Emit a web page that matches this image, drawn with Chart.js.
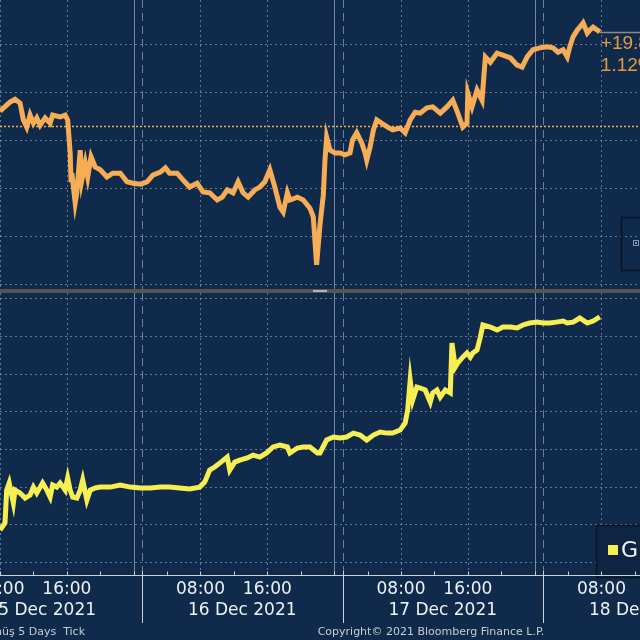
<!DOCTYPE html>
<html>
<head>
<meta charset="utf-8">
<script src="https://cdn.jsdelivr.net/npm/chart.js@4.4.1/dist/chart.umd.min.js"></script>
<style>
  html, body { margin: 0; padding: 0; background: #0f2a4a; overflow: hidden; }
  #wrap { position: relative; width: 640px; height: 640px; background: #0f2a4a; }
  canvas { position: absolute; left: 0; }
  #top { top: 0; }
  #sep { position: absolute; left: 0; top: 289px; width: 640px; height: 4px; background: #55574f; }
  #handle { position: absolute; left: 313px; top: 290px; width: 14px; height: 2px; background: #b8b8b0; }
  #bottom { top: 293px; }
</style>
</head>
<body>
<div id="wrap">
  <canvas id="top" width="640" height="289"></canvas>
  <div id="sep"></div>
  <div id="handle"></div>
  <canvas id="bottom" width="640" height="347"></canvas>
</div>
<script>
// x values are hours counted from 15 Dec 2021 00:00
const xMin = 8, xMax = 84.61;

// upper panel (orange)
const goldHours = [8.0, 9.2, 9.8, 10.4, 10.8, 11.2, 11.6, 12.0, 12.4, 12.8, 13.4, 14.0, 14.3, 15.2, 15.8,
  16.1, 16.4, 16.5, 16.6, 17.0, 17.2, 17.6, 17.8, 18.2, 18.5, 18.9, 19.4, 20.0, 20.8, 21.5, 22.4,
  23.2, 23.9, 24.8, 25.6, 26.3, 27.2, 27.8, 28.3, 29.2, 29.9, 30.7, 31.6, 32.3, 33.1, 34.0, 34.6,
  35.2, 35.9, 36.5, 37.1, 37.7, 38.5, 39.1, 39.7, 40.3, 40.9, 41.5, 41.9, 42.4, 42.7, 43.6, 44.3,
  45.1, 45.5, 45.9, 46.3, 46.7, 46.9, 47.1, 47.5, 48.1, 48.7, 49.3, 49.9, 50.2, 50.7, 51.3, 51.7,
  51.9, 52.3, 52.7, 53.1, 53.7, 54.4, 55.0, 55.9, 56.5, 57.1, 57.7, 58.3, 59.1, 59.8, 60.7, 61.5,
  62.2, 62.8, 63.4, 63.9, 64.0, 64.5, 65.1, 65.7, 66.1, 66.7, 67.5, 68.2, 69.1, 69.9, 70.5, 71.1,
  71.8, 72.6, 73.5, 74.2, 74.8, 75.4, 75.9, 76.2, 76.6, 77.1, 77.4, 77.8, 78.3, 78.6, 79.0, 79.5, 79.8];
const goldPrice = [1786.0, 1787.9, 1788.5, 1787.7, 1784.2, 1782.7, 1785.2, 1783.5, 1784.6, 1783.1, 1784.6, 1783.5, 1785.2, 1784.8, 1785.2,
  1784.2, 1777.3, 1771.7, 1773.1, 1766.9, 1769.0, 1777.9, 1771.7, 1775.2, 1772.3, 1776.5, 1774.4, 1773.8, 1772.3, 1773.1, 1773.1,
  1771.3, 1771.0, 1770.8, 1771.3, 1772.7, 1773.3, 1774.2, 1773.1, 1773.1, 1771.7, 1770.2, 1771.0, 1769.2, 1769.0, 1767.5, 1768.1,
  1769.6, 1769.0, 1771.3, 1769.0, 1768.1, 1769.6, 1770.2, 1771.3, 1773.8, 1770.2, 1766.0, 1765.0, 1769.0, 1767.5, 1768.1, 1767.5,
  1765.8, 1764.0, 1754.0, 1762.3, 1768.5, 1775.8, 1780.6, 1777.9, 1777.3, 1777.3, 1776.9, 1777.3, 1780.0, 1781.5, 1779.4, 1777.3,
  1775.8, 1778.5, 1782.1, 1784.2, 1783.5, 1782.7, 1782.1, 1782.5, 1781.5, 1784.2, 1785.8, 1785.6, 1786.7, 1786.9, 1785.6, 1786.9,
  1788.3, 1785.6, 1782.7, 1783.5, 1789.8, 1786.9, 1790.4, 1788.3, 1797.3, 1796.2, 1798.1, 1797.7, 1797.1, 1795.6, 1795.2, 1797.3,
  1798.8, 1799.2, 1799.4, 1799.2, 1798.3, 1798.8, 1797.3, 1799.4, 1801.5, 1802.9, 1803.5, 1804.4, 1802.3, 1802.9, 1803.5, 1802.9, 1802.5];
const prevClose = 1782.9;
const goldGrid = [1750, 1760, 1770, 1780, 1790, 1800];
const goldChange = '+19.80';
const goldPct = '1.12%';

// lower panel (yellow)
const gramHours = [8.0, 8.6, 8.8, 9.1, 9.6, 9.8, 10.4, 11.0, 11.6, 12.0, 12.4, 13.1, 13.6, 14.0, 14.3, 14.8,
  15.2, 15.8, 16.1, 16.4, 16.7, 17.2, 17.6, 17.9, 18.4, 18.8, 19.4, 20.0, 21.2, 22.4, 23.6, 24.8, 26.0,
  27.2, 28.3, 29.5, 30.7, 31.9, 32.5, 33.1, 33.7, 34.3, 35.2, 35.5, 36.1, 36.7, 37.6, 38.3, 39.1, 39.9,
  40.7, 41.5, 42.4, 42.7, 43.6, 44.3, 45.1, 46.0, 46.3, 47.1, 47.9, 48.7, 49.5, 50.3, 51.1, 51.9, 52.7,
  53.5, 54.3, 55.0, 55.9, 56.5, 56.8, 57.1, 57.4, 57.9, 58.3, 58.9, 59.5, 59.8, 60.3, 60.7, 61.3, 61.9,
  62.1, 62.5, 62.8, 63.4, 63.9, 64.3, 64.6, 65.1, 65.5, 65.8, 66.7, 67.5, 68.2, 69.1, 69.9, 70.6, 71.4,
  72.3, 73.0, 73.8, 74.6, 75.4, 75.9, 76.6, 77.4, 78.3, 79.0, 79.8];
const gramPrice = [821.2, 825.9, 847.7, 852.4, 839.1, 847.7, 845.8, 842.4, 844.4, 849.7, 845.8, 852.4, 847.7, 843.1, 851.1, 849.7,
  852.4, 847.7, 855.7, 847.7, 843.1, 842.4, 847.7, 854.4, 841.1, 847.7, 849.1, 849.7, 849.7, 851.1, 849.7, 849.1, 849.1,
  849.7, 849.7, 849.1, 848.4, 849.7, 853.0, 861.0, 863.0, 865.6, 869.6, 861.0, 866.3, 867.6, 869.0, 870.9, 869.6, 872.3,
  876.3, 877.6, 876.3, 872.3, 875.6, 876.3, 876.3, 872.3, 872.3, 880.9, 882.9, 882.2, 882.9, 885.5, 884.2, 880.9, 884.2,
  886.2, 885.5, 885.5, 887.5, 892.2, 900.8, 920.7, 907.4, 916.0, 915.4, 914.1, 906.1, 912.1, 914.1, 909.4, 914.1, 912.1,
  945.2, 929.3, 932.0, 935.9, 938.6, 935.9, 938.6, 940.6, 949.2, 957.2, 955.8, 953.8, 955.8, 955.8, 955.2, 957.2, 958.5,
  959.1, 958.5, 958.5, 959.1, 959.8, 958.5, 959.1, 961.8, 958.5, 959.8, 962.5];
const gramGrid = [800, 825, 850, 875, 900, 925, 950, 975];

// time axis
const gridHours = [8, 16, 32, 40, 56, 64, 80];
const timeLabels = ['08:00', '16:00', '08:00', '16:00', '08:00', '16:00', '08:00'];
const midnights = [24, 48, 72];
const sessionStarts = [25, 49, 73];
const dayCenters = [13, 37, 61, 85];
const dayLabels = ['15 Dec 2021', '16 Dec 2021', '17 Dec 2021', '18 Dec 2021'];

const BG = '#0f2a4a';
const ORANGE = '#f6ad55';
const YELLOW = '#f6ee52';

function seg(ctx, x1, y1, x2, y2) {
  ctx.beginPath(); ctx.moveTo(x1, y1); ctx.lineTo(x2, y2); ctx.stroke();
}

const gridPlugin = {
  id: 'bbgGrid',
  beforeDraw(chart, args, opts) {
    const { ctx, chartArea: a, scales: { x, y } } = chart;
    ctx.save();
    ctx.fillStyle = BG;
    ctx.fillRect(0, 0, chart.width, chart.height);
    ctx.lineWidth = 1;
    ctx.strokeStyle = 'rgba(150,172,200,0.6)';
    ctx.setLineDash([2, 3]);
    opts.rows.forEach(v => {
      const py = Math.round(y.getPixelForValue(v)) + 0.5;
      seg(ctx, a.left, py, a.right, py);
    });
    gridHours.forEach(h => {
      const px = Math.round(x.getPixelForValue(h)) + 0.5;
      seg(ctx, px, a.top, px, a.bottom);
    });
    ctx.setLineDash([]);
    ctx.strokeStyle = 'rgba(165,180,200,0.7)';
    midnights.forEach(h => {
      const px = Math.round(x.getPixelForValue(h)) + 0.5;
      seg(ctx, px, a.top, px, a.bottom);
    });
    ctx.setLineDash([8, 5]);
    ctx.strokeStyle = 'rgba(150,165,188,0.7)';
    sessionStarts.forEach(h => {
      const px = Math.round(x.getPixelForValue(h)) + 0.5;
      seg(ctx, px, a.top, px, a.bottom);
    });
    if (opts.refLine != null) {
      ctx.setLineDash([2, 2]);
      ctx.lineWidth = 1.5;
      ctx.strokeStyle = ORANGE;
      const py = Math.round(y.getPixelForValue(opts.refLine)) + 0.5;
      seg(ctx, a.left, py, a.right, py);
    }
    ctx.restore();
  }
};

const topOverlay = {
  id: 'topOverlay',
  afterDraw(chart) {
    const { ctx, scales: { x, y } } = chart;
    const lastX = x.getPixelForValue(goldHours[goldHours.length - 1]);
    const lastY = Math.round(y.getPixelForValue(goldPrice[goldPrice.length - 1])) + 0.5;
    ctx.save();
    ctx.strokeStyle = '#8c8c86';
    ctx.lineWidth = 1.5;
    seg(ctx, lastX, lastY, 640, lastY);
    ctx.fillStyle = '#e39b42';
    ctx.font = '19px "Liberation Sans"';
    ctx.textBaseline = 'middle';
    ctx.textAlign = 'left';
    ctx.fillText(goldChange, lastX + 1, 44);
    ctx.fillText(goldPct, lastX + 1, 66);
    // small box on the right edge
    ctx.strokeStyle = '#071526';
    ctx.lineWidth = 1.5;
    ctx.strokeRect(621.5, 217.5, 30, 53);
    ctx.strokeStyle = '#8a97a8';
    ctx.lineWidth = 1;
    ctx.strokeRect(633.5, 240.5, 5, 5);
    ctx.fillStyle = '#8a97a8';
    ctx.fillRect(635, 242, 2, 2);
    ctx.restore();
  }
};

const bottomOverlay = {
  id: 'bottomOverlay',
  afterDraw(chart) {
    const { ctx, chartArea: a, scales: { x } } = chart;
    ctx.save();
    // legend box
    ctx.fillStyle = '#0d2543';
    ctx.fillRect(596, 232, 50, 52);
    ctx.strokeStyle = '#061425';
    ctx.lineWidth = 1.5;
    ctx.strokeRect(596.5, 232.5, 50, 52);
    ctx.fillStyle = YELLOW;
    ctx.fillRect(608, 252, 10, 10);
    ctx.fillStyle = '#f0f2f5';
    ctx.font = '22px "DejaVu Sans"';
    ctx.textBaseline = 'middle';
    ctx.textAlign = 'left';
    ctx.fillText('G', 621, 258);

    // time axis
    const base = a.bottom + 0.5;
    ctx.strokeStyle = '#c9d1db';
    ctx.lineWidth = 1;
    seg(ctx, 0, base, 640, base);
    for (let h = 8; h <= 84; h += 4) {
      const px = Math.round(x.getPixelForValue(h)) + 0.5;
      seg(ctx, px, base - 4, px, base);
    }
    sessionStarts.forEach(h => {
      const px = Math.round(x.getPixelForValue(h)) + 0.5;
      seg(ctx, px, a.bottom - 4, px, a.bottom + 48);
    });
    ctx.fillStyle = '#eef1f5';
    ctx.textAlign = 'center';
    ctx.font = '17px "DejaVu Sans"';
    gridHours.forEach((h, i) => ctx.fillText(timeLabels[i], x.getPixelForValue(h), a.bottom + 15));
    dayCenters.forEach((h, i) => ctx.fillText(dayLabels[i], x.getPixelForValue(h), a.bottom + 36));
    ctx.fillStyle = '#c6ced8';
    ctx.font = '11px "DejaVu Sans"';
    ctx.textAlign = 'right';
    ctx.fillText('Görünüş 5 Days  Tick', 85, a.bottom + 57);
    ctx.textAlign = 'center';
    ctx.fillText('Copyright\u00a9 2021 Bloomberg Finance L.P.', 431, a.bottom + 57);
    ctx.restore();
  }
};

function makeChart(id, hours, values, color, yMin, yMax, rows, refLine, padBottom, overlay) {
  return new Chart(document.getElementById(id), {
    type: 'line',
    data: {
      datasets: [{
        data: hours.map((h, i) => ({ x: h, y: values[i] })),
        borderColor: color,
        borderWidth: 5,
        pointRadius: 0,
        tension: 0
      }]
    },
    options: {
      responsive: false,
      animation: false,
      layout: { autoPadding: false, padding: { left: 0, right: 0, top: 0, bottom: padBottom } },
      scales: {
        x: { type: 'linear', display: false, min: xMin, max: xMax },
        y: { type: 'linear', display: false, min: yMin, max: yMax }
      },
      plugins: {
        legend: { display: false },
        tooltip: { enabled: false },
        bbgGrid: { rows: rows, refLine: refLine }
      }
    },
    plugins: [gridPlugin, overlay]
  });
}

makeChart('top', goldHours, goldPrice, ORANGE, 1748.96, 1809.17, goldGrid, prevClose, 0, topOverlay);
makeChart('bottom', gramHours, gramPrice, YELLOW, 791.4, 978.4, gramGrid, null, 65, bottomOverlay);
</script>
</body>
</html>
